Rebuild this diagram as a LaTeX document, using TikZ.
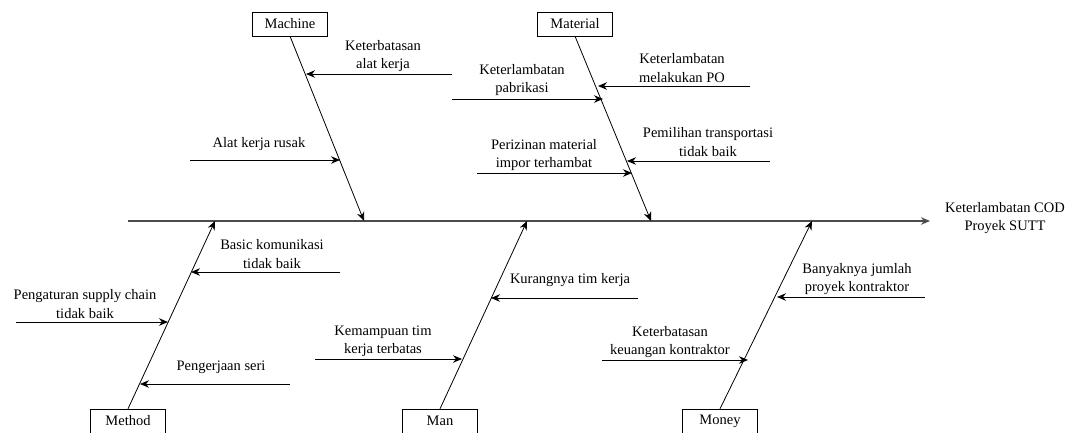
\documentclass[tikz,border=0pt]{standalone}
\usepackage{fontspec}
\setmainfont{Liberation Serif}
\newfontfamily\fishfont{Liberation Serif}
\usetikzlibrary{arrows.meta,positioning,calc}
\tikzset{every node/.append style={align=center}}

\begin{document}
\begin{tikzpicture}[x=1pt, y=-1pt, every node/.style={font=\fishfont\fontsize{14.5}{18.5}\selectfont, align=center}, >={Stealth[length=9pt,width=7.5pt]}]
  \useasboundingbox (0,0) rectangle (1069,432);
  % categories
  \node[draw, minimum width=75pt, minimum height=24pt, inner sep=1pt] (machine) at (290,24) {Machine};
  \node[draw, minimum width=75pt, minimum height=24pt, inner sep=1pt] (material) at (575,24) {Material};
  \node[draw, minimum width=75pt, minimum height=24pt, inner sep=1pt] (method) at (128,421) {Method};
  \node[draw, minimum width=75pt, minimum height=24pt, inner sep=1pt] (man) at (440,421) {Man};
  \node[draw, minimum width=75pt, minimum height=24pt, inner sep=1pt] (money) at (720,421) {Money};
  % spine
  \coordinate (tail) at (128,221);
  \coordinate (head) at (930,221);
  \node (effect) at (1005,218) {Keterlambatan COD\\Proyek SUTT};
  \draw[->, line width=1.6pt, black!70] (tail) -- (head);
  % bones
  \coordinate (machtip) at (364,221);
  \coordinate (mattip) at (651,221);
  \coordinate (methtip) at (215,221);
  \coordinate (mantip) at (527,221);
  \coordinate (montip) at (812,221);
  \draw[->, thick] (machine.south) -- (machtip);
  \draw[->, thick] (material.south) -- (mattip);
  \draw[->, thick] (method.north) -- (methtip);
  \draw[->, thick] (man.north) -- (mantip);
  \draw[->, thick] (money.north) -- (montip);
  % machine causes
  \coordinate (c1s) at (452,74);  \coordinate (c1e) at (306,74);
  \coordinate (c2s) at (190,160); \coordinate (c2e) at (340,160);
  \node (t1) at (383,56) {Keterbatasan\\alat kerja};
  \node (t2) at (259,144) {Alat kerja rusak};
  \draw[->, thick] (c1s) -- (c1e);
  \draw[->, thick] (c2s) -- (c2e);
  % material causes
  \coordinate (c3s) at (452,99);  \coordinate (c3e) at (603,99);
  \coordinate (c4s) at (750,86);  \coordinate (c4e) at (598,86);
  \coordinate (c5s) at (770,161); \coordinate (c5e) at (627,161);
  \coordinate (c6s) at (477,173); \coordinate (c6e) at (632,173);
  \node (t3) at (522,80) {Keterlambatan\\pabrikasi};
  \node (t4) at (682,68) {Keterlambatan\\melakukan PO};
  \node (t5) at (708,142) {Pemilihan transportasi\\tidak baik};
  \node (t6) at (544,155) {Perizinan material\\impor terhambat};
  \draw[->, thick] (c3s) -- (c3e);
  \draw[->, thick] (c4s) -- (c4e);
  \draw[->, thick] (c5s) -- (c5e);
  \draw[->, thick] (c6s) -- (c6e);
  % method causes
  \coordinate (c7s) at (340,272); \coordinate (c7e) at (191,272);
  \coordinate (c8s) at (16,322);  \coordinate (c8e) at (168,322);
  \coordinate (c9s) at (290,384); \coordinate (c9e) at (140,384);
  \node (t7) at (272,254) {Basic komunikasi\\tidak baik};
  \node (t8) at (85,304) {Pengaturan supply chain\\tidak baik};
  \node (t9) at (221,367) {Pengerjaan seri};
  \draw[->, thick] (c7s) -- (c7e);
  \draw[->, thick] (c8s) -- (c8e);
  \draw[->, thick] (c9s) -- (c9e);
  % man causes
  \coordinate (c10s) at (638,298); \coordinate (c10e) at (491,298);
  \coordinate (c11s) at (315,359); \coordinate (c11e) at (462,359);
  \node (t10) at (570,280) {Kurangnya tim kerja};
  \node (t11) at (383,341) {Kemampuan tim\\kerja terbatas};
  \draw[->, thick] (c10s) -- (c10e);
  \draw[->, thick] (c11s) -- (c11e);
  % money causes
  \coordinate (c12s) at (925,297); \coordinate (c12e) at (777,297);
  \coordinate (c13s) at (602,360); \coordinate (c13e) at (748,360);
  \node (t12) at (857,279) {Banyaknya jumlah\\proyek kontraktor};
  \node (t13) at (670,342) {Keterbatasan\\keuangan kontraktor};
  \draw[->, thick] (c12s) -- (c12e);
  \draw[->, thick] (c13s) -- (c13e);
\end{tikzpicture}
\end{document}
